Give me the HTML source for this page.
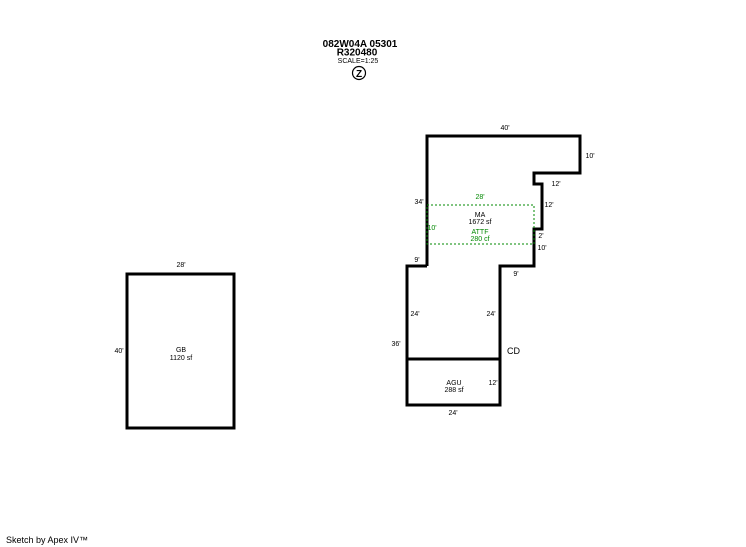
<!DOCTYPE html>
<html><head><style>
html,body{margin:0;padding:0;background:#fff;}
svg{display:block;}
text{font-family:"Liberation Sans",sans-serif;}
</style></head><body>
<svg width="746" height="547" viewBox="0 0 746 547" xmlns="http://www.w3.org/2000/svg">
<text x="360" y="47" font-size="10" font-weight="bold" text-anchor="middle">082W04A 05301</text>
<text x="357" y="55.5" font-size="10" font-weight="bold" text-anchor="middle">R320480</text>
<text x="358" y="63" font-size="7" text-anchor="middle">SCALE=1:25</text>
<circle cx="359" cy="73" r="6.5" fill="none" stroke="#000" stroke-width="1.2"/>
<text x="359" y="77" font-size="10" font-weight="bold" text-anchor="middle">Z</text>

<g fill="none" stroke="#000" stroke-width="3">
<polyline points="427,266 427,136 580,136 580,173 534,173 534,184 542,184 542,229 534,229 534,266 500,266 500,405 407,405 407,266 427,266"/>
<line x1="407" y1="359" x2="500" y2="359"/>
<rect x="127" y="274" width="107" height="154"/>
</g>
<rect x="427" y="205" width="107" height="39" fill="none" stroke="#080" stroke-width="1" stroke-dasharray="2,2"/>

<g font-size="7" text-anchor="middle">
<text x="505" y="130">40'</text>
<text x="590" y="158">10'</text>
<text x="556" y="186">12'</text>
<text x="549" y="207">12'</text>
<text x="541" y="238">2'</text>
<text x="542" y="250">10'</text>
<text x="516" y="276">9'</text>
<text x="419" y="204">34'</text>
<text x="417" y="262">9'</text>
<text x="415" y="316">24'</text>
<text x="491" y="316">24'</text>
<text x="396" y="346">36'</text>
<text x="493" y="385">12'</text>
<text x="453" y="415">24'</text>
<text x="480" y="217">MA</text>
<text x="480" y="224">1672 sf</text>
<text x="454" y="385">AGU</text>
<text x="454" y="392">288 sf</text>
<text x="181" y="267">28'</text>
<text x="119" y="353">40'</text>
<text x="181" y="352">GB</text>
<text x="181" y="360">1120 sf</text>
</g>
<g font-size="7" text-anchor="middle" fill="#080">
<text x="480" y="199">28'</text>
<text x="432" y="230">10'</text>
<text x="480" y="234">ATTF</text>
<text x="480" y="241">280 cf</text>
</g>
<text x="507" y="354" font-size="9">CD</text>
<text x="6" y="543" font-size="9">Sketch by Apex IV™</text>
</svg>
</body></html>
